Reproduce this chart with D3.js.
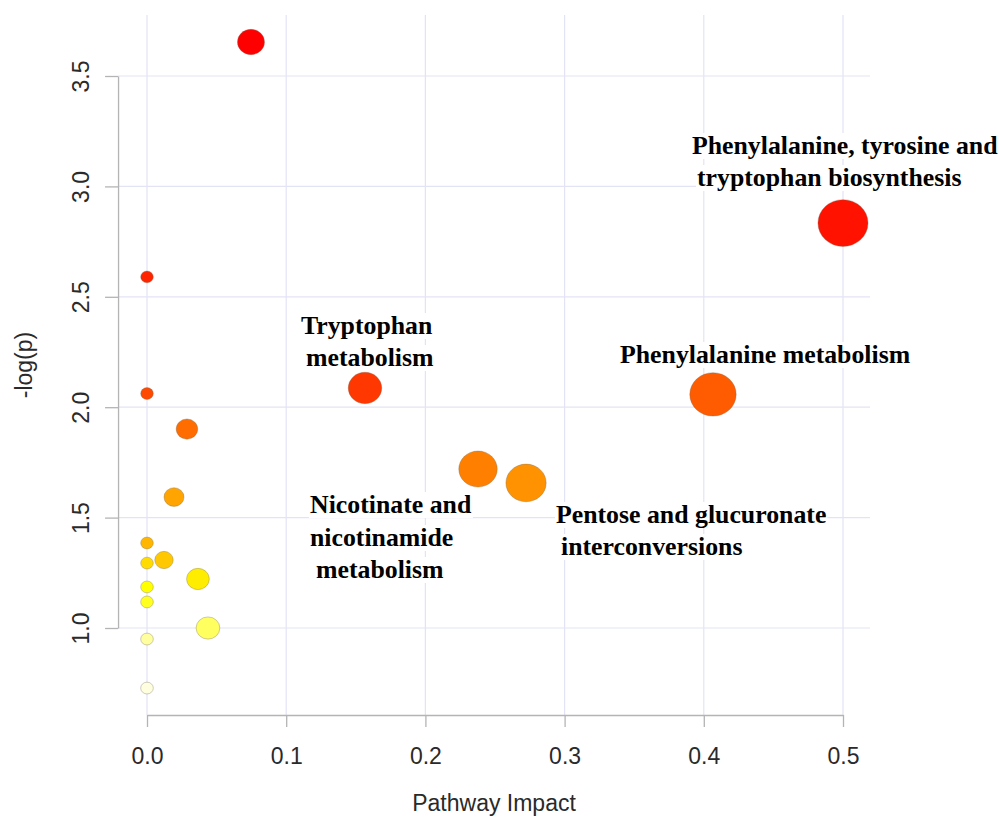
<!DOCTYPE html>
<html>
<head>
<meta charset="utf-8">
<script src="https://cdn.jsdelivr.net/npm/d3@7/dist/d3.min.js"></script>
<style>
  html, body { margin: 0; padding: 0; background: #ffffff; }
  svg { display: block; }
</style>
</head>
<body>
<svg id="chart" width="1000" height="818"></svg>
<script>
// ---------------- data ----------------
const pathwayImpact = [0.0747, 0, 0, 0.0287, 0.0194, 0, 0, 0.0122, 0.0366, 0, 0, 0.0438, 0, 0, 0.1566, 0.2378, 0.2723, 0.4066, 0.5];
const negLogP      = [3.654, 2.590, 2.062, 1.901, 1.593, 1.385, 1.294, 1.308, 1.222, 1.186, 1.118, 1.000, 0.950, 0.728, 2.087, 1.720, 1.657, 2.058, 2.834];

const xTicks = [0.0, 0.1, 0.2, 0.3, 0.4, 0.5];
const yTicks = [1.0, 1.5, 2.0, 2.5, 3.0, 3.5];

// annotation lines (text, anchor in data units)
const labelText = [
  "Phenylalanine, tyrosine and", "tryptophan biosynthesis",
  "Tryptophan", "metabolism",
  "Phenylalanine metabolism",
  "Nicotinate and", "nicotinamide", "metabolism",
  "Pentose and glucuronate", "interconversions"
];
const labelX = [0.3915, 0.3951, 0.1106, 0.1142, 0.3398, 0.1171, 0.1171, 0.1214, 0.2938, 0.2974];
const labelY = [3.1467, 3.0018, 2.3315, 2.1866, 2.2002, 1.5208, 1.3714, 1.2264, 1.4755, 1.3306];

const xTitle = "Pathway Impact";
const yTitle = "-log(p)";

// ---------------- layout ----------------
const svg = d3.select("#chart");
const x = d3.scaleLinear().domain([0, 0.5]).range([147, 843]);
const y = d3.scaleLinear().domain([1.0, 3.5]).range([628, 76]);
const xPlot = [-0.0208, 0.5194];
const yPlot = [0.606, 3.776];

const sans = "'Liberation Sans', Arial, Helvetica, sans-serif";
const serif = "'Liberation Serif', 'Times New Roman', Times, serif";
const gridColor = "#e3e3f6";
const axisColor = "#b4b4b4";

// ---------------- grid ----------------
const grid = svg.append("g");
grid.selectAll("line.v").data(xTicks).join("line")
  .attr("x1", d => x(d)).attr("x2", d => x(d))
  .attr("y1", y(yPlot[1])).attr("y2", y(yPlot[0]))
  .attr("stroke", gridColor).attr("stroke-width", 1.2);
grid.selectAll("line.h").data(yTicks).join("line")
  .attr("x1", x(xPlot[0])).attr("x2", x(xPlot[1]))
  .attr("y1", d => y(d)).attr("y2", d => y(d))
  .attr("stroke", gridColor).attr("stroke-width", 1.2);

// ---------------- axes ----------------
const xAxis = svg.append("g")
  .attr("transform", `translate(0,${y(yPlot[0])})`)
  .call(d3.axisBottom(x).tickValues(xTicks).tickFormat(d3.format(".1f")).tickSize(12).tickSizeOuter(0));
const yAxis = svg.append("g")
  .attr("transform", `translate(${x(xPlot[0])},0)`)
  .call(d3.axisLeft(y).tickValues(yTicks).tickFormat(d3.format(".1f")).tickSize(13).tickSizeOuter(0));

[xAxis, yAxis].forEach(g => {
  g.select(".domain").attr("stroke", axisColor).attr("stroke-width", 1.3);
  g.selectAll(".tick line").attr("stroke", axisColor).attr("stroke-width", 1.3);
  g.selectAll(".tick text").attr("fill", "#2a2a2a").style("font-family", sans).style("font-size", "23px");
});
xAxis.selectAll(".tick text").attr("y", 49).attr("dy", 0);
yAxis.selectAll(".tick text")
  .attr("x", 0).attr("dy", 0).attr("y", 0)
  .attr("text-anchor", "middle")
  .attr("transform", "translate(-29,0) rotate(-90)");

svg.append("text")
  .attr("x", (x(xPlot[0]) + x(xPlot[1])) / 2).attr("y", 811)
  .attr("text-anchor", "middle").attr("fill", "#2a2a2a")
  .style("font-family", sans).style("font-size", "23px")
  .text(xTitle);
svg.append("text")
  .attr("transform", `translate(32,${(y(yPlot[0]) + y(yPlot[1])) / 2}) rotate(-90)`)
  .attr("text-anchor", "middle").attr("fill", "#2a2a2a")
  .style("font-family", sans).style("font-size", "23px")
  .text(yTitle);

// ---------------- points ----------------
const n = pathwayImpact.length;
const pts = pathwayImpact.map((v, i) => ({ impact: v, p: negLogP[i] }));
// R heat.colors(n) assigned by significance rank
const jw = Math.floor(n / 4), iw = n - jw;
function heatColor(rank) {
  if (rank < iw) return d3.hsl(rank / (iw - 1) * 60, 1, 0.5).formatHex();
  const k = rank - iw;
  const s = (1 - 1 / (2 * jw)) - k * ((1 - 1 / jw) / (jw - 1));
  return d3.rgb(255, 255, Math.round(255 * (1 - s))).formatHex();
}
const order = d3.range(n).sort((a, b) => pts[b].p - pts[a].p);
order.forEach((idx, rank) => { pts[idx].color = heatColor(rank); });

const r = d3.scaleSqrt().domain([0, 0.5]).range([5.9, 23.4]);
const drawOrder = pts.slice().sort((a, b) => b.impact - a.impact);
svg.append("g").selectAll("ellipse").data(drawOrder).join("ellipse")
  .attr("cx", d => x(d.impact)).attr("cy", d => y(d.p))
  .attr("rx", d => r(d.impact) * 1.07).attr("ry", d => r(d.impact))
  .attr("fill", d => d.color)
  .attr("stroke", "rgba(120,110,90,0.35)").attr("stroke-width", 1);

// ---------------- annotations ----------------
const ann = svg.append("g");
labelText.forEach((t, i) => {
  const g = ann.append("g");
  const txt = g.append("text")
    .attr("x", x(labelX[i])).attr("y", y(labelY[i]))
    .attr("fill", "#000")
    .style("font-family", serif).style("font-size", "25.8px").style("font-weight", "bold")
    .text(t);
  const bb = txt.node().getBBox();
  g.insert("rect", "text")
    .attr("x", bb.x - 1).attr("y", bb.y + 2)
    .attr("width", bb.width + 2).attr("height", bb.height - 3)
    .attr("fill", "#ffffff");
});
</script>
</body>
</html>
